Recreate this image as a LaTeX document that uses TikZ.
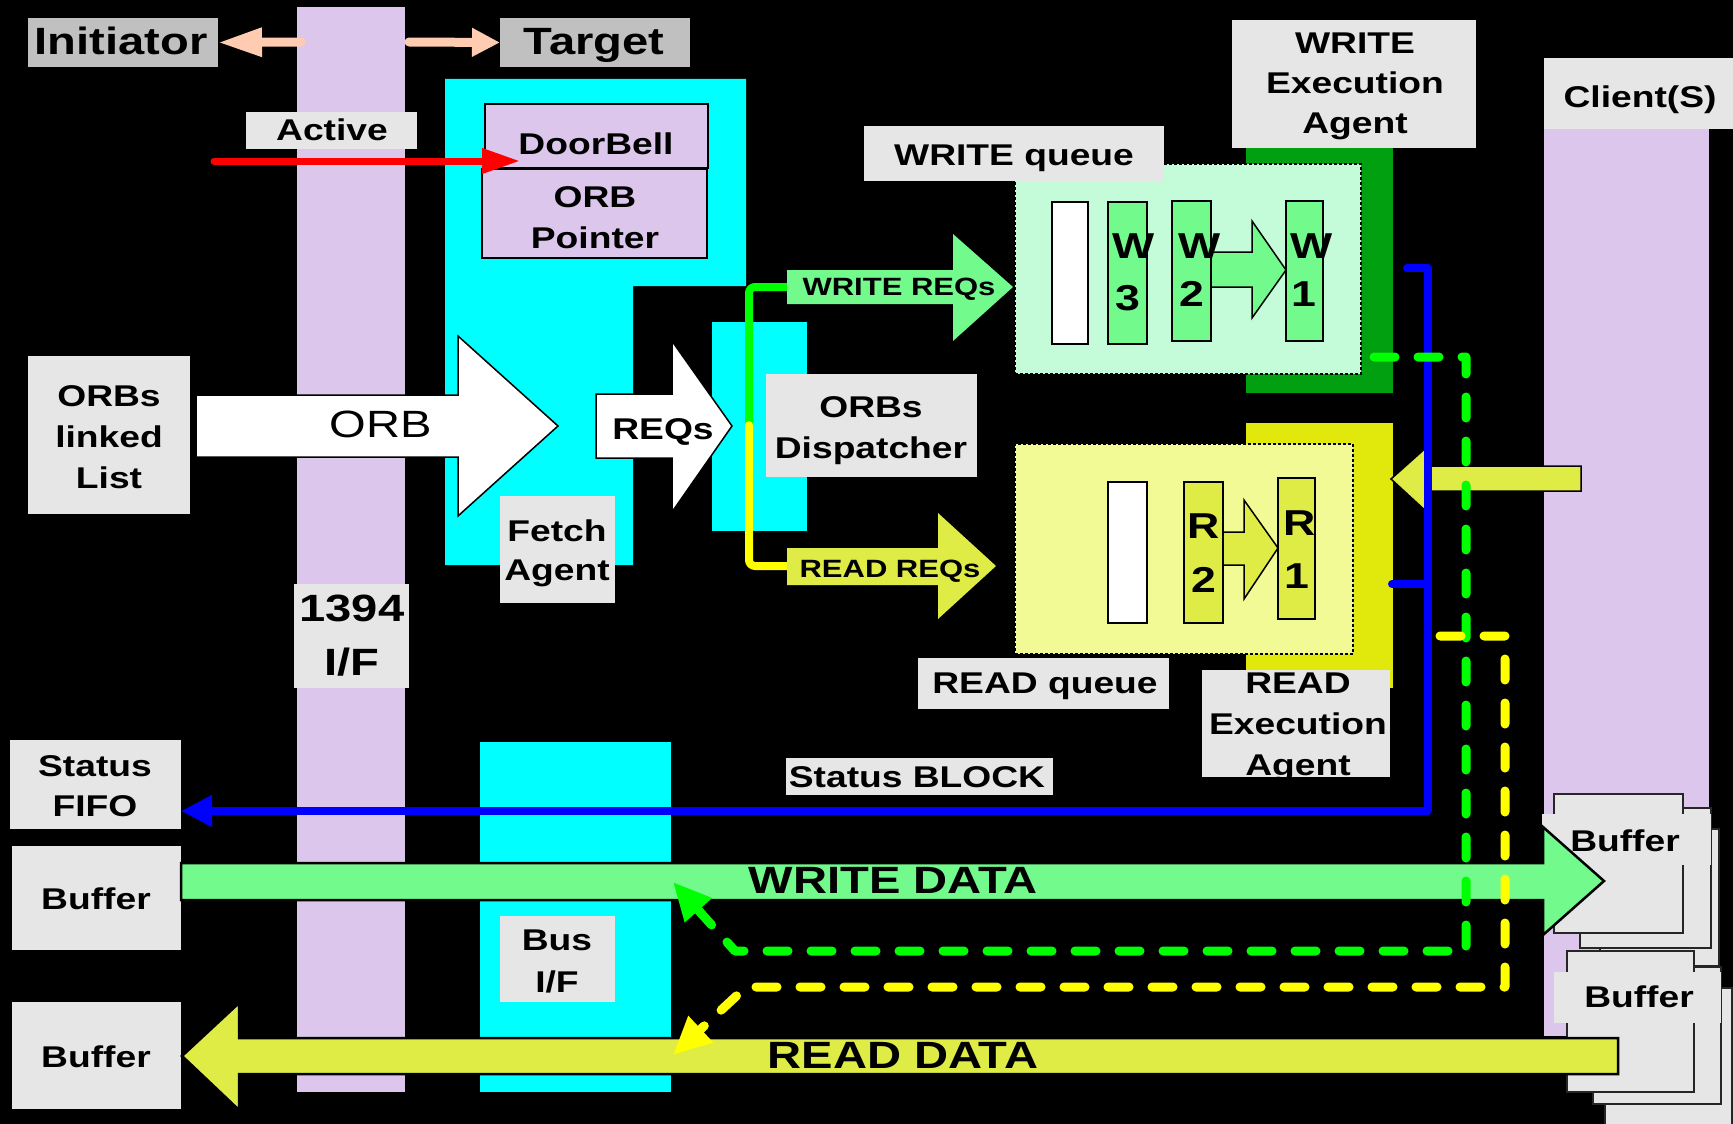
\documentclass[tikz,border=0pt]{standalone}
\usepackage{fontspec}
\setmainfont{Liberation Sans}[FakeStretch=1.24]
\usetikzlibrary{arrows.meta}
\definecolor{lav}{RGB}{220,198,236}
\definecolor{cyanc}{RGB}{0,255,255}
\definecolor{peach}{RGB}{255,204,178}
\definecolor{wgreen}{RGB}{115,250,140}
\definecolor{dgreen}{RGB}{0,160,16}
\definecolor{mint}{RGB}{196,252,218}
\definecolor{lgreen}{RGB}{0,255,0}
\definecolor{ryel}{RGB}{224,236,70}
\definecolor{dyel}{RGB}{224,232,12}
\definecolor{pyel}{RGB}{242,250,150}
\definecolor{yline}{RGB}{255,255,0}
\definecolor{bgray}{RGB}{230,230,230}
\definecolor{igray}{RGB}{192,192,192}
\begin{document}
\begin{tikzpicture}[x=1pt,y=-1pt,
  gbox/.style={fill=bgray,draw=none,inner sep=0pt,outer sep=0pt},
  lbox/.style={fill=lav,draw=black,line width=1.5pt,inner sep=0pt,outer sep=0pt},
  t30/.style={font=\bfseries\fontsize{30}{41}\selectfont,align=center,anchor=base,inner sep=0pt},
  t38/.style={font=\bfseries\fontsize{38}{54}\selectfont,align=center,anchor=base,inner sep=0pt},
  t36/.style={font=\bfseries\fontsize{36}{52}\selectfont,anchor=base,inner sep=0pt},
  t25/.style={font=\bfseries\fontsize{25}{30}\selectfont,anchor=base,inner sep=0pt},
  blk/.style={draw=black,line width=1.5pt},
  slotbox/.style={draw=black,line width=1.5pt},
  qbox/.style={draw=black,line width=1.2pt,dash pattern=on 3pt off 2pt},
  dashline/.style={line width=9pt,line cap=round,line join=round,dash pattern=on 21pt off 23pt},
  page/.style={fill=bgray,draw=black!85,line width=1.3pt},
]
\useasboundingbox (0,0) rectangle (1733,1124);
\fill[black] (0,0) rectangle (1733,1124);

% ---------- background blocks ----------
\fill[lav] (297,7) rectangle (405,1092);
\fill[cyanc] (445,79) -- (746,79) -- (746,286) -- (633,286) -- (633,565) -- (445,565) -- cycle;
\fill[cyanc] (712,322) rectangle (807,531);
\fill[cyanc] (480,742) rectangle (671,1092);
\fill[lav] (1544,110) rectangle (1709,1036);

% ---------- initiator / target ----------
\node[gbox,fill=igray,minimum width=190pt,minimum height=49pt] (initbox) at (123,42.5) {};
\node[t38] (inittxt) at (121,55) {Initiator};
\node[gbox,fill=igray,minimum width=190pt,minimum height=49pt] (targbox) at (595,42.5) {};
\node[t38] (targtxt) at (594,55) {Target};
\coordinate (barL) at (301,42);
\coordinate (barR) at (409,42);
\draw[peach,line width=9pt,line cap=round,-{Triangle[length=44pt,width=27pt]}] (barL) -- (initbox.east);
\draw[peach,line width=9pt,line cap=round,-{Triangle[length=28pt,width=27pt]}] (barR) -- (targbox.west);

% ---------- active / doorbell ----------
\node[gbox,minimum width=171pt,minimum height=37pt] (activebox) at (331.5,130.5) {};
\node[t30] (activetxt) at (332,140) {Active};
\node[lbox,minimum width=223pt,minimum height=64pt] (doorbell) at (596.5,136) {};
\node[t30] at (596,154) {DoorBell};
\node[lbox,minimum width=225pt,minimum height=89pt] (orbptr) at (594.5,213.5) {};
\node[t30] at (595,248) {ORB\\Pointer};
\coordinate (redS) at (214,161);
\coordinate (redE) at (520,161);
\draw[red,line width=7pt,line cap=round,-{Triangle[length=38pt,width=24pt]}] (redS) -- (redE);

% ---------- ORB list and arrows ----------
\node[gbox,minimum width=162pt,minimum height=158pt] (orbslist) at (109,435) {};
\node[t30] at (109,488) {ORBs\\linked\\List};
\path[fill=white,blk] (196,395) -- (458,395) -- (458,336) -- (558,426) -- (458,516) -- (458,457) -- (196,457) -- cycle;
\node[font=\fontsize{38}{44}\selectfont,anchor=base,inner sep=0pt] (orbtxt) at (381,437) {ORB};
\path[fill=white,blk] (596,394) -- (672,394) -- (672,341) -- (732,426) -- (672,512) -- (672,458) -- (596,458) -- cycle;
\node[t30] (reqtxt) at (663,439) {REQs};
\node[gbox,minimum width=115pt,minimum height=107pt] (fetchbox) at (557.5,549.5) {};
\node[t30,font=\bfseries\fontsize{30}{39}\selectfont] at (557,580) {Fetch\\Agent};

% ---------- dispatcher routing ----------
\coordinate (wreqL) at (787,287);
\coordinate (split) at (749,425);
\coordinate (rreqL) at (787,566);
\draw[lgreen,line width=8pt,line cap=round,rounded corners=6pt] (wreqL) -- (749,287) -- (split);
\draw[yline,line width=8pt,line cap=round,rounded corners=6pt] (split) -- (749,566) -- (rreqL);
\path[fill=wgreen] (787,270) -- (953,270) -- (953,234) -- (1013,287) -- (953,341) -- (953,304) -- (787,304) -- cycle;
\node[t25] (wreqtxt) at (899,295) {WRITE REQs};
\path[fill=ryel] (787,548) -- (938,548) -- (938,513) -- (996,566) -- (938,619) -- (938,585) -- (787,585) -- cycle;
\node[t25] (rreqtxt) at (890,577) {READ REQs};
\node[gbox,minimum width=211pt,minimum height=103pt] (dispbox) at (871.5,425.5) {};
\node[t30] at (871,458) {ORBs\\Dispatcher};

% ---------- write queue ----------
\fill[dgreen] (1246,140) rectangle (1393,393);
\node[gbox,minimum width=244pt,minimum height=128pt] (wexec) at (1354,84) {};
\node[t30,font=\bfseries\fontsize{30}{40}\selectfont] at (1355,133) {WRITE\\Execution\\Agent};
\node[fill=mint,qbox,minimum width=346pt,minimum height=210pt,inner sep=0pt] (wq) at (1188,269) {};
\node[gbox,minimum width=300pt,minimum height=55pt] (wqlabel) at (1014,153.5) {};
\node[t30] at (1014,165) {WRITE queue};
\node[fill=white,slotbox,minimum width=36pt,minimum height=142pt,inner sep=0pt] (wslot0) at (1070,273) {};
\node[fill=wgreen,slotbox,minimum width=39pt,minimum height=142pt,inner sep=0pt] (wslot3) at (1127.5,273) {};
\node[fill=wgreen,slotbox,minimum width=39pt,minimum height=140pt,inner sep=0pt] (wslot2) at (1191.5,271) {};
\node[fill=wgreen,slotbox,minimum width=37pt,minimum height=140pt,inner sep=0pt] (wslot1) at (1304.5,271) {};
\path[fill=wgreen,blk] (1211,252) -- (1252,252) -- (1252,221) -- (1286,270) -- (1252,318) -- (1252,287) -- (1211,287) -- cycle;
\node[t36] at (1134,258) {W};
\node[t36] at (1128,310) {3};
\node[t36] at (1200,258) {W};
\node[t36] at (1192,306) {2};
\node[t36] at (1312,258) {W};
\node[t36] at (1304,306) {1};

% ---------- read queue ----------
\fill[dyel] (1246,423) rectangle (1393,688);
\node[fill=pyel,qbox,minimum width=338pt,minimum height=210pt,inner sep=0pt] (rq) at (1184,549) {};
\node[fill=white,slotbox,minimum width=39pt,minimum height=141pt,inner sep=0pt] (rslot0) at (1127.5,552.5) {};
\node[fill=ryel,slotbox,minimum width=39pt,minimum height=141pt,inner sep=0pt] (rslot2) at (1203.5,552.5) {};
\node[fill=ryel,slotbox,minimum width=37pt,minimum height=141pt,inner sep=0pt] (rslot1) at (1296.5,548.5) {};
\path[fill=ryel,blk] (1223,532) -- (1244,532) -- (1244,500) -- (1278,548) -- (1244,599) -- (1244,565) -- (1223,565) -- cycle;
\node[t36] at (1204,538) {R};
\node[t36] at (1204,592) {2};
\node[t36] at (1300,535) {R};
\node[t36] at (1297,588) {1};
\node[gbox,minimum width=251pt,minimum height=51pt] (rqlabel) at (1043.5,683.5) {};
\node[t30] at (1045,693) {READ queue};
\node[gbox,minimum width=188pt,minimum height=107pt] (rexec) at (1296,723.5) {};
\begin{scope}
\clip (1202,660) rectangle (1390,777);
\node[t30] at (1298,775) {READ\\Execution\\Agent};
\end{scope}

% ---------- client ----------
\node[gbox,minimum width=189pt,minimum height=71pt] (client) at (1638.5,93.5) {};
\node[t30] at (1640,107) {Client(S)};
\path[fill=ryel,blk] (1581,466) -- (1429,466) -- (1429,445) -- (1391,479) -- (1429,514) -- (1429,491) -- (1581,491) -- cycle;

% ---------- left column labels ----------
\node[gbox,minimum width=115pt,minimum height=104pt] (if1394) at (351.5,636) {};
\node[t38] at (352,675) {1394\\I/F};
\node[gbox,minimum width=171pt,minimum height=89pt] (fifo) at (95.5,784.5) {};
\node[t30,font=\bfseries\fontsize{30}{40}\selectfont] at (95,816) {Status\\FIFO};
\node[gbox,minimum width=169pt,minimum height=104pt] (bufw) at (96.5,898) {};
\node[t30] at (96,909) {Buffer};
\node[gbox,minimum width=169pt,minimum height=107pt] (bufr) at (96.5,1055.5) {};
\node[t30] at (96,1067) {Buffer};
\node[gbox,minimum width=115pt,minimum height=86pt] (busif) at (557.5,959) {};
\node[t30,font=\bfseries\fontsize{30}{42}\selectfont] at (557,992) {Bus\\I/F};

% ---------- status block (blue) ----------
\coordinate (wexecB) at (1407,268);
\coordinate (rexecB) at (1392,584);
\draw[blue,line width=8pt,line cap=round,line join=round,-{Triangle[length=31pt,width=30pt]}] (wexecB) -- (1428,268) -- (1428,811) -- (fifo.east |- 0,811);
\draw[blue,line width=8pt,line cap=round] (rexecB) -- (1428,584);
\node[gbox,minimum width=267pt,minimum height=37pt] (statblk) at (919.5,776.5) {};
\node[t30] at (917,787) {Status BLOCK};

% ---------- right buffers ----------
\draw[page] (1600,829) rectangle (1719,966);
\draw[page] (1580,808) rectangle (1711,948);
\draw[page] (1554,794) rectangle (1683,933);
\node[gbox,minimum width=169pt,minimum height=51pt] (bufR1) at (1626.5,839.5) {};
\node[t30] at (1625,851) {Buffer};
\draw[page] (1605,988) rectangle (1732,1130);
\draw[page] (1593,967) rectangle (1721,1104);
\draw[page] (1567,951) rectangle (1694,1092);
\node[gbox,minimum width=167pt,minimum height=51pt] (bufR2) at (1637.5,997.5) {};
\node[t30] at (1639,1007) {Buffer};

% ---------- data arrows ----------
\path[fill=wgreen,draw=black,line width=2.5pt] (181,863) -- (1543,863) -- (1543,827) -- (1604,881) -- (1543,935) -- (1543,900) -- (181,900) -- cycle;
\node[t38] (wdtxt) at (893,893) {WRITE DATA};
\path[fill=ryel,draw=black,line width=2.5pt] (1618,1038) -- (239,1038) -- (239,1003) -- (182,1056) -- (239,1110) -- (239,1074) -- (1618,1074) -- cycle;
\node[t38] (rdtxt) at (903,1068) {READ DATA};

% ---------- dashed data paths ----------
\coordinate (gdS) at (1374,357);
\coordinate (gdE) at (673,882);
\coordinate (ydS) at (1440,636);
\coordinate (ydE) at (673,1055);
\draw[lgreen,dashline,-{Triangle[length=38pt,width=34pt]}] (gdS) -- (1466,357) -- (1466,951) -- (735,951) -- (gdE);
\draw[yline,dashline,-{Triangle[length=38pt,width=34pt]}] (ydS) -- (1505,636) -- (1505,987) -- (746,987) -- (ydE);
\end{tikzpicture}
\end{document}
